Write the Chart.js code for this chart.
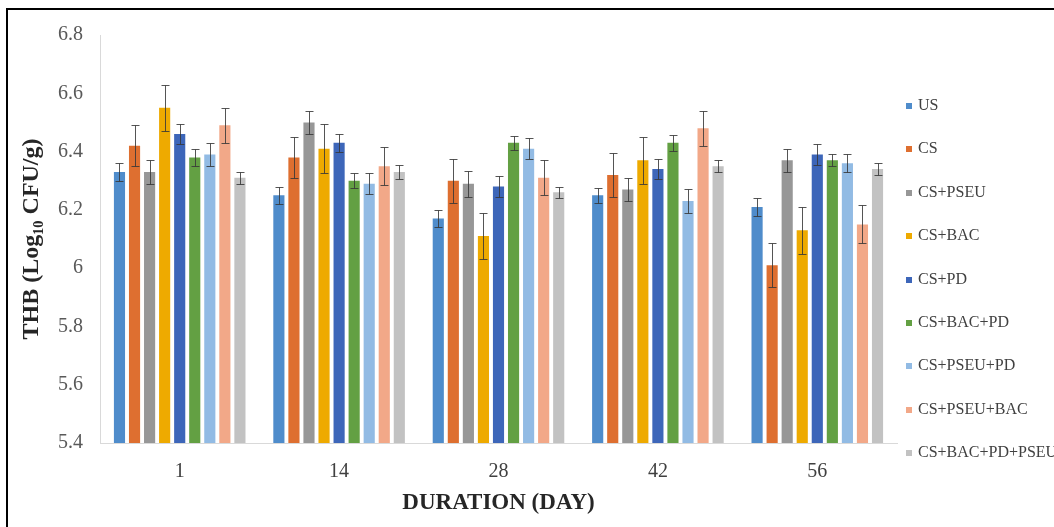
<!DOCTYPE html>
<html>
<head>
<meta charset="utf-8">
<script src="https://cdn.jsdelivr.net/npm/chart.js@4.4.1/dist/chart.umd.min.js"></script>
<style>
  html, body { margin: 0; padding: 0; background: #fff; }
  #wrap { position: relative; width: 1054px; height: 527px; overflow: hidden; }
  #frame { position: absolute; left: 6px; top: 8px; width: 1100px; height: 600px;
           border-top: 2px solid #000; border-left: 2px solid #000; }
  #chartBox { position: absolute; left: 0; top: 0; width: 1054px; height: 527px; }
  #legend { position: absolute; left: 906px; top: 83px; font-family: "Liberation Serif", serif;
            font-size: 16px; color: #404040; white-space: nowrap; }
  #legend div { height: 43.4px; line-height: 43.4px; }
  #legend span.box { display: inline-block; width: 6px; height: 6px; margin-right: 6px; vertical-align: 1px; }
</style>
</head>
<body>
<div id="wrap">
  <div id="frame"></div>
  <div id="chartBox"><canvas id="chart"></canvas></div>
  <div id="legend"></div>
</div>
<script>
// days on the x axis
const days = ['1', '14', '28', '42', '56'];
const seriesNames = ['US', 'CS', 'CS+PSEU', 'CS+BAC', 'CS+PD', 'CS+BAC+PD', 'CS+PSEU+PD', 'CS+PSEU+BAC', 'CS+BAC+PD+PSEU'];
const seriesColors = ['#4f8ccb', '#de6f30', '#979797', '#eeaa00', '#3d66b9', '#63a043', '#92bbe4', '#f2a888', '#c2c2c2'];

// THB means (log10 CFU/g)
const us = [6.33, 6.25, 6.17, 6.25, 6.21];
const cs = [6.42, 6.38, 6.30, 6.32, 6.01];
const csPseu = [6.33, 6.50, 6.29, 6.27, 6.37];
const csBac = [6.55, 6.41, 6.11, 6.37, 6.13];
const csPd = [6.46, 6.43, 6.28, 6.34, 6.39];
const csBacPd = [6.38, 6.30, 6.43, 6.43, 6.37];
const csPseuPd = [6.39, 6.29, 6.41, 6.23, 6.36];
const csPseuBac = [6.49, 6.35, 6.31, 6.48, 6.15];
const csBacPdPseu = [6.31, 6.33, 6.26, 6.35, 6.34];

// error bar half-lengths
const usErr = [0.03, 0.03, 0.03, 0.025, 0.03];
const csErr = [0.07, 0.07, 0.075, 0.075, 0.075];
const csPseuErr = [0.04, 0.04, 0.045, 0.04, 0.04];
const csBacErr = [0.08, 0.085, 0.08, 0.08, 0.08];
const csPdErr = [0.035, 0.03, 0.035, 0.035, 0.035];
const csBacPdErr = [0.03, 0.025, 0.025, 0.027, 0.02];
const csPseuPdErr = [0.04, 0.035, 0.035, 0.04, 0.03];
const csPseuBacErr = [0.06, 0.065, 0.06, 0.06, 0.065];
const csBacPdPseuErr = [0.02, 0.025, 0.02, 0.02, 0.02];

const yTicks = [5.4, 5.6, 5.8, 6.0, 6.2, 6.4, 6.6, 6.8];

const values = [us, cs, csPseu, csBac, csPd, csBacPd, csPseuPd, csPseuBac, csBacPdPseu];
const errors = [usErr, csErr, csPseuErr, csBacErr, csPdErr, csBacPdErr, csPseuPdErr, csPseuBacErr, csBacPdPseuErr];

const serif = '"Liberation Serif", "Times New Roman", serif';

// draws the error bars from the y scale
const errorBars = {
  id: 'errorBars',
  afterDatasetsDraw(chart) {
    const ctx = chart.ctx;
    const y = chart.scales.y;
    ctx.save();
    ctx.strokeStyle = 'rgba(55,55,55,0.85)';
    ctx.lineWidth = 1;
    chart.data.datasets.forEach((ds, i) => {
      const meta = chart.getDatasetMeta(i);
      meta.data.forEach((bar, j) => {
        const v = ds.data[j];
        const e = ds.errors[j];
        const x = Math.round(bar.x) + 0.5;
        const top = Math.round(y.getPixelForValue(v + e)) + 0.5;
        const bot = Math.round(y.getPixelForValue(v - e)) + 0.5;
        ctx.beginPath();
        ctx.moveTo(x, top); ctx.lineTo(x, bot);
        ctx.moveTo(x - 4, top); ctx.lineTo(x + 4, top);
        ctx.moveTo(x - 4, bot); ctx.lineTo(x + 4, bot);
        ctx.stroke();
      });
    });
    ctx.restore();
  }
};

const datasets = seriesNames.map((name, i) => ({
  label: name,
  data: values[i],
  errors: errors[i],
  backgroundColor: seriesColors[i],
  borderWidth: 0,
  barPercentage: 0.74,
  categoryPercentage: 0.85
}));

new Chart(document.getElementById('chart'), {
  type: 'bar',
  data: { labels: days, datasets },
  plugins: [errorBars],
  options: {
    responsive: true,
    maintainAspectRatio: false,
    animation: false,
    layout: { padding: { left: 0, right: 157, top: 35, bottom: 0 } },
    plugins: {
      legend: { display: false },
      tooltip: { enabled: false }
    },
    scales: {
      x: {
        grid: { display: false, drawTicks: false },
        border: { color: '#d9d9d9', width: 1 },
        ticks: { color: '#404040', font: { family: serif, size: 20 }, padding: 17 },
        title: {
          display: true,
          text: 'DURATION (DAY)',
          color: '#262626',
          font: { family: serif, size: 23, weight: 'bold' },
          padding: { top: 0, bottom: 10 }
        },
        afterFit: (scale) => { scale.height = 84; }
      },
      y: {
        min: 5.4,
        max: 6.8,
        afterBuildTicks: (scale) => { scale.ticks = yTicks.map((v) => ({ value: v })); },
        grid: { display: false, drawTicks: false },
        border: { color: '#d9d9d9', width: 1 },
        ticks: {
          color: '#595959',
          font: { family: serif, size: 20 },
          padding: 17,
          callback: (v) => String(Number(v.toFixed(1)))
        },
        title: {
          display: true,
          text: 'THB (Log\u2081\u2080 CFU/g)',
          color: '#262626',
          font: { family: serif, size: 24, weight: 'bold' },
          padding: { top: 17, bottom: 0 }
        },
        afterFit: (scale) => { scale.width = 100; }
      }
    }
  }
});

// legend built from the same series
const legend = document.getElementById('legend');
seriesNames.forEach((name, i) => {
  const row = document.createElement('div');
  const box = document.createElement('span');
  box.className = 'box';
  box.style.background = seriesColors[i];
  row.appendChild(box);
  row.appendChild(document.createTextNode(name));
  legend.appendChild(row);
});
</script>
</body>
</html>
